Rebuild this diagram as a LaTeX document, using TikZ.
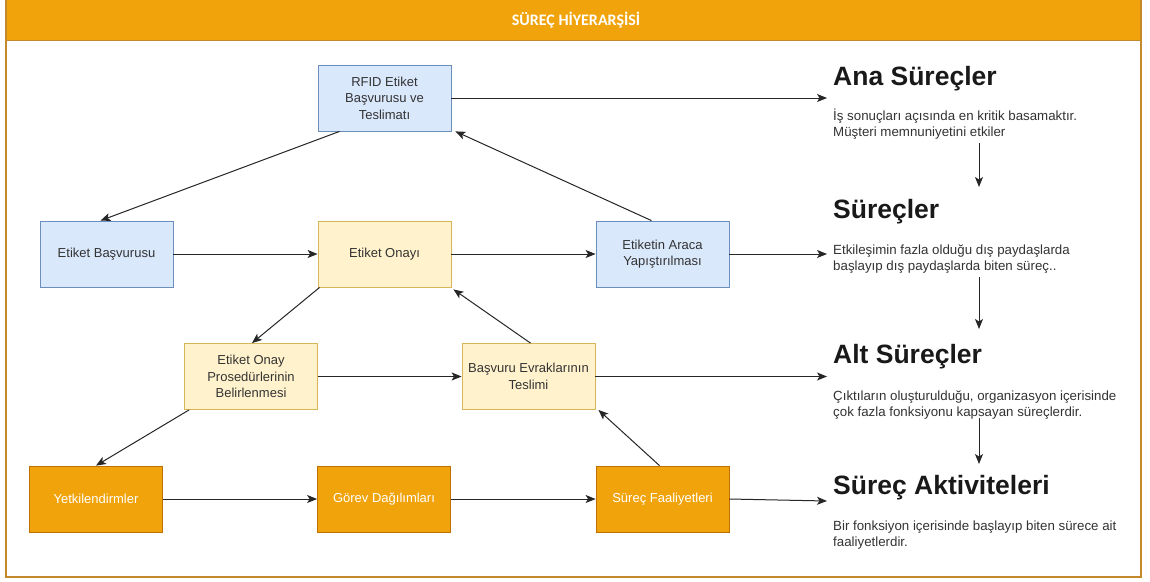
\documentclass[tikz,border=0pt]{standalone}
\usepackage{fontspec}
\setmainfont{Liberation Sans}
\newfontfamily\titlefont{Carlito}
\usetikzlibrary{arrows.meta,calc}

\definecolor{hdrorange}{HTML}{F0A30A}
\definecolor{frameline}{HTML}{C4892B}
\definecolor{bluefill}{HTML}{DAE8FC}
\definecolor{bluestroke}{HTML}{6C8EBF}
\definecolor{yelfill}{HTML}{FFF2CC}
\definecolor{yelstroke}{HTML}{D6B656}
\definecolor{orgstroke}{HTML}{BD7000}
\definecolor{desctext}{HTML}{333333}

\tikzset{
  procbox/.style={draw, line width=0.8pt, minimum width=133pt, minimum height=66pt,
    align=center, inner sep=2pt, font=\fontsize{13}{16.5}\selectfont, text=desctext},
  mainbox/.style={procbox, fill=bluefill, draw=bluestroke},
  subbox/.style={procbox, fill=yelfill, draw=yelstroke},
  actbox/.style={procbox, fill=hdrorange, draw=orgstroke, text=white},
  link/.style={draw=black!85, line width=1pt, -{Stealth[length=10pt,width=8pt,inset=2.5pt]}},
  levelhead/.style={anchor=base west, inner sep=0pt, font=\fontsize{26.5}{30}\selectfont\bfseries, text=black!90},
  % anchored at the baseline of the second (last) line
  leveldesc/.style={anchor=base west, inner sep=0pt, align=left, font=\fontsize{13.3}{15.5}\selectfont, text=desctext}
}

\begin{document}
\begin{tikzpicture}[x=1pt,y=-1pt]
\useasboundingbox (0,0) rectangle (1150,581);

% frame with header band
\fill[white] (6,0) rectangle (1141,577);
\fill[hdrorange] (6,0) rectangle (1141,40);
\draw[frameline, line width=1pt] (6,40) -- (1141,40);
\draw[frameline, line width=1.2pt] (6,0) -- (6,577) -- (1141,577) -- (1141,0);
\node[text=white, font=\titlefont\fontsize{16}{18}\selectfont\bfseries] (title) at (576,20) {SÜREÇ HİYERARŞİSİ};

% process boxes
\node[mainbox] (rfid) at (384.5,98) {RFID Etiket\\Başvurusu ve\\Teslimatı};
\node[mainbox] (eb)   at (106.5,254) {Etiket Başvurusu};
\node[subbox]  (eo)   at (384.5,254) {Etiket Onayı};
\node[mainbox] (eaa)  at (662.5,254) {Etiketin Araca\\Yapıştırılması};
\node[subbox]  (prb)  at (251,376.5) {Etiket Onay\\Prosedürlerinin\\Belirlenmesi};
\node[subbox]  (be)   at (528.5,376.5) {Başvuru Evraklarının\\Teslimi};
\node[actbox]  (yet)  at (96,499) {Yetkilendirmler};
\node[actbox]  (gd)   at (384,499) {Görev Dağılımları};
\node[actbox]  (sf)   at (662.5,499) {Süreç Faaliyetleri};

% level legend
\node[levelhead] (h1) at (833,85) {Ana Süreçler};
\node[leveldesc] (d1) at (833,136) {İş sonuçları açısında en kritik basamaktır.\\Müşteri memnuniyetini etkiler};
\node[levelhead] (h2) at (833,218) {Süreçler};
\node[leveldesc] (d2) at (833,270) {Etkileşimin fazla olduğu dış paydaşlarda\\başlayıp dış paydaşlarda biten süreç..};
\node[levelhead] (h3) at (833,363) {Alt Süreçler};
\node[leveldesc] (d3) at (833,416) {Çıktıların oluşturulduğu, organizasyon içerisinde\\çok fazla fonksiyonu kapsayan süreçlerdir.};
\node[levelhead] (h4) at (833,494) {Süreç Aktiviteleri};
\node[leveldesc] (d4) at (833,546) {Bir fonksiyon içerisinde başlayıp biten sürece ait\\faaliyetlerdir.};

% free ends of the level pointers
\coordinate (p1) at (827,98);
\coordinate (p2) at (827,254);
\coordinate (p3) at (827,376.5);
\coordinate (p4) at (827,501);
\coordinate (v1a) at (979,143);
\coordinate (v1b) at (979,187);
\coordinate (v2a) at (979,277);
\coordinate (v2b) at (979,329);
\coordinate (v3a) at (979,418);
\coordinate (v3b) at (979,464);

% connectors
\draw[link] (rfid.east) -- (p1);
\draw[link] ([xshift=22pt]rfid.south west) -- ([xshift=-6pt]eb.north);
\draw[link] ([xshift=-11pt]eaa.north) -- ([xshift=4pt]rfid.south east);
\draw[link] (eb.east) -- (eo.west);
\draw[link] (eo.east) -- (eaa.west);
\draw[link] (eaa.east) -- (p2);
\draw[link] ([xshift=2pt]eo.south west) -- ([xshift=1pt]prb.north);
\draw[link] ([xshift=2pt]be.north) -- ([xshift=2pt,yshift=-2pt]eo.south east);
\draw[link] (prb.east) -- (be.west);
\draw[link] (be.east) -- (p3);
\draw[link] ([xshift=5pt]prb.south west) -- (yet.north);
\draw[link] ([xshift=-3pt]sf.north) -- ([xshift=3pt]be.south east);
\draw[link] (yet.east) -- (gd.west);
\draw[link] (gd.east) -- (sf.west);
\draw[link] (sf.east) -- (p4);
\draw[link] (v1a) -- (v1b);
\draw[link] (v2a) -- (v2b);
\draw[link] (v3a) -- (v3b);
\end{tikzpicture}
\end{document}
